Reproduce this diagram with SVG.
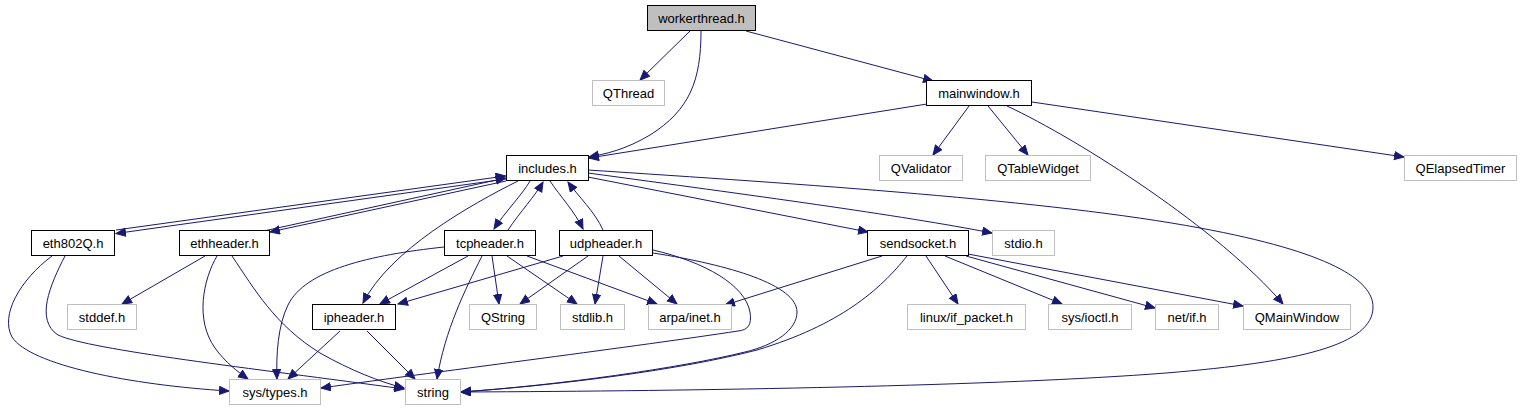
<svg xmlns="http://www.w3.org/2000/svg" width="1522" height="411" viewBox="0 0 1522 411">
<defs>
<marker id="a" markerWidth="11" markerHeight="10" refX="10" refY="4.5" orient="auto" markerUnits="userSpaceOnUse">
<path d="M0.5,0.5 L10,4.5 L0.5,8.5 z" fill="#191970" stroke="#191970" stroke-width="1"/>
</marker>
</defs>
<style>
.n rect{fill:#fff;stroke:#000;stroke-width:1}
.x rect{fill:#fff;stroke:#bfbfbf;stroke-width:1}
.r rect{fill:#bfbfbf;stroke:#000;stroke-width:1}
text{font-family:"Liberation Sans",Arial,sans-serif;font-size:13px;fill:#000;text-anchor:middle}
#edges path{fill:none;stroke:#191970;stroke-width:1;marker-end:url(#a)}
</style>
<rect width="1522" height="411" fill="#fff"/>
<g id="edges">
<path d="M690,31 L640,80"/>
<path d="M701,31 C701,80 690,110 650,135 C625,150 605,154 589,157"/>
<path d="M746,31 L933,81"/>
<path d="M927,104 L589,158"/>
<path d="M969,106 L933,155"/>
<path d="M988,106 L1028,155"/>
<path d="M1007,106 C1080,140 1220,230 1283,304"/>
<path d="M1032,102 L1404,157"/>
<path d="M506,179 L116,233.5"/>
<path d="M116,230 L505.5,176"/>
<path d="M506,181 L270,232"/>
<path d="M266,230.5 L505.5,178"/>
<path d="M530,181 C522,195 505,212 494,229"/>
<path d="M508,230 C520,212 535,196 543,182"/>
<path d="M550,181 C560,196 575,212 583,229"/>
<path d="M603,230 C595,212 578,196 568,182"/>
<path d="M518,181 C470,205 390,250 363,303"/>
<path d="M588,177 L868,232"/>
<path d="M588,173 C750,195 900,215 992,233"/>
<path d="M588,170 C800,184 1050,200 1200,228 C1330,252 1373,280 1373,307 C1373,345 1300,362 1166,373 C1000,386 700,391 461,392"/>
<path d="M52,256 C20,280 0,315 12,337 C30,365 130,385 229,391"/>
<path d="M65,256 C50,285 35,320 58,335 C90,350 250,368 404,389"/>
<path d="M205,256 L122,304"/>
<path d="M217,256 C203,280 195,320 215,348 C225,362 238,372 248,379"/>
<path d="M232,256 C255,290 275,325 320,353 C350,370 380,382 404,388"/>
<path d="M444,247 C370,255 305,270 288,305 C278,325 276,355 277,379"/>
<path d="M468,256 L380,304"/>
<path d="M482,256 C465,290 445,330 437,379"/>
<path d="M492,256 L499,304"/>
<path d="M507,256 L577,304"/>
<path d="M527,256 L657,304"/>
<path d="M563,256 L398,304"/>
<path d="M588,256 L520,304"/>
<path d="M603,256 L595,304"/>
<path d="M619,256 L677,304"/>
<path d="M653,250 C705,262 745,285 750,312 C752,325 748,330 738,331 C640,346 450,370 321,388"/>
<path d="M653,253 C730,265 797,285 797,312 C797,330 775,345 745,352 C680,368 560,385 461,392"/>
<path d="M882,256 L725,305"/>
<path d="M907,256 C880,290 840,325 757,350 C680,370 560,385 461,392"/>
<path d="M926,256 L958,304"/>
<path d="M945,256 L1062,304"/>
<path d="M966,256 L1155,308"/>
<path d="M968,254 L1243,306"/>
<path d="M340,331 L288,379"/>
<path d="M367,331 L415,379"/>
</g>
<g id="workerthread" class="r"><rect x="647.5" y="5.5" width="108" height="25"/><text x="701.5" y="22.5">workerthread.h</text></g>
<g id="QThread" class="x"><rect x="592.5" y="80.5" width="72" height="25"/><text x="628.5" y="97.5">QThread</text></g>
<g id="mainwindow" class="n"><rect x="926.5" y="80.5" width="105" height="25"/><text x="979" y="97.5">mainwindow.h</text></g>
<g id="includes" class="n"><rect x="506.5" y="155.5" width="82" height="25"/><text x="547.5" y="172.5">includes.h</text></g>
<g id="QValidator" class="x"><rect x="879.5" y="155.5" width="83" height="25"/><text x="921" y="172.5">QValidator</text></g>
<g id="QTableWidget" class="x"><rect x="985.5" y="155.5" width="105" height="25"/><text x="1038" y="172.5">QTableWidget</text></g>
<g id="QElapsedTimer" class="x"><rect x="1404.5" y="155.5" width="112" height="25"/><text x="1460.5" y="172.5">QElapsedTimer</text></g>
<g id="eth802Q" class="n"><rect x="31.5" y="230.5" width="83" height="25"/><text x="73" y="247.5">eth802Q.h</text></g>
<g id="ethheader" class="n"><rect x="179.5" y="230.5" width="90" height="25"/><text x="224.5" y="247.5">ethheader.h</text></g>
<g id="tcpheader" class="n"><rect x="444.5" y="230.5" width="91" height="25"/><text x="490" y="247.5">tcpheader.h</text></g>
<g id="udpheader" class="n"><rect x="559.5" y="230.5" width="93" height="25"/><text x="606" y="247.5">udpheader.h</text></g>
<g id="sendsocket" class="n"><rect x="867.5" y="230.5" width="101" height="25"/><text x="918" y="247.5">sendsocket.h</text></g>
<g id="stdio" class="x"><rect x="992.5" y="230.5" width="62" height="25"/><text x="1023.5" y="247.5">stdio.h</text></g>
<g id="stddef" class="x"><rect x="67.5" y="304.5" width="69" height="25"/><text x="102" y="321.5">stddef.h</text></g>
<g id="ipheader" class="n"><rect x="312.5" y="304.5" width="83" height="25"/><text x="354" y="321.5">ipheader.h</text></g>
<g id="QString" class="x"><rect x="469.5" y="304.5" width="67" height="25"/><text x="503" y="321.5">QString</text></g>
<g id="stdlib" class="x"><rect x="560.5" y="304.5" width="64" height="25"/><text x="592.5" y="321.5">stdlib.h</text></g>
<g id="arpa_inet" class="x"><rect x="648.5" y="304.5" width="83" height="25"/><text x="690" y="321.5">arpa/inet.h</text></g>
<g id="linux_if_packet" class="x"><rect x="907.5" y="304.5" width="118" height="25"/><text x="966.5" y="321.5">linux/if_packet.h</text></g>
<g id="sys_ioctl" class="x"><rect x="1048.5" y="304.5" width="83" height="25"/><text x="1090" y="321.5">sys/ioctl.h</text></g>
<g id="net_if" class="x"><rect x="1155.5" y="304.5" width="63" height="25"/><text x="1187" y="321.5">net/if.h</text></g>
<g id="QMainWindow" class="x"><rect x="1243.5" y="304.5" width="107" height="25"/><text x="1297" y="321.5">QMainWindow</text></g>
<g id="sys_types" class="x"><rect x="229.5" y="379.5" width="91" height="25"/><text x="275" y="396.5">sys/types.h</text></g>
<g id="string" class="x"><rect x="405.5" y="379.5" width="55" height="25"/><text x="433" y="396.5">string</text></g>
</svg>
